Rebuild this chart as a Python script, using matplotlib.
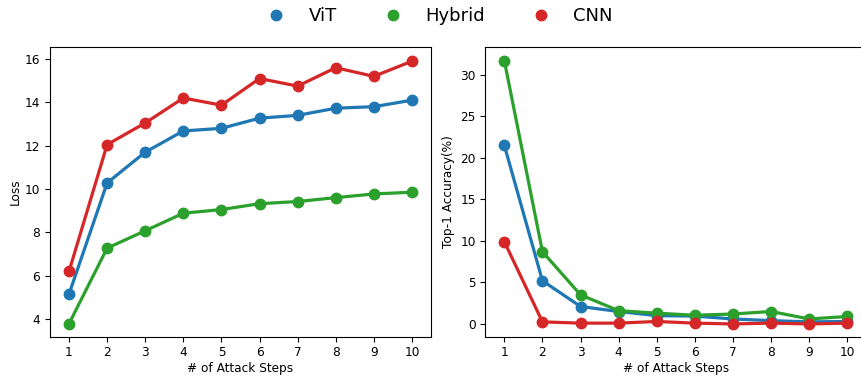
import matplotlib.pyplot as plt
from matplotlib.lines import Line2D

steps = ['1', '2', '3', '4', '5', '6', '7', '8', '9', '10']
models = ['ViT', 'Hybrid', 'CNN']
colors = ['#1f77b4', '#2ca02c', '#d62728']

loss_vit = [5.15, 10.28, 11.7, 12.68, 12.8, 13.27, 13.4, 13.73, 13.8, 14.1]
loss_hybrid = [3.78, 7.27, 8.07, 8.88, 9.05, 9.32, 9.42, 9.6, 9.77, 9.85]
loss_cnn = [6.2, 12.05, 13.05, 14.2, 13.87, 15.1, 14.75, 15.6, 15.2, 15.9]

acc_vit = [21.5, 5.2, 2.1, 1.5, 1.0, 0.95, 0.6, 0.4, 0.25, 0.3]
acc_hybrid = [31.7, 8.7, 3.5, 1.6, 1.3, 1.05, 1.2, 1.5, 0.6, 0.9]
acc_cnn = [9.9, 0.25, 0.1, 0.1, 0.3, 0.1, 0.0, 0.1, 0.0, 0.1]

plt.rcParams['font.size'] = 8.7

fig = plt.figure(figsize=(8.62, 3.77), dpi=100)
ax1 = fig.add_axes([0.058, 0.107, 0.442, 0.768])
ax2 = fig.add_axes([0.563, 0.107, 0.442, 0.768])

x = list(range(len(steps)))

# left: loss
for ys, c in zip([loss_vit, loss_hybrid, loss_cnn], colors):
    ax1.plot(x, ys, color=c, lw=2.3, marker='o', markersize=7.5)
ax1.set_ylim(3.18, 16.55)
ax1.set_ylabel('Loss', labelpad=2)

# right: accuracy
for ys, c in zip([acc_vit, acc_hybrid, acc_cnn], colors):
    ax2.plot(x, ys, color=c, lw=2.3, marker='o', markersize=7.5)
ax2.set_ylim(-1.53, 33.34)
ax2.set_ylabel('Top-1 Accuracy(%)')

for ax in (ax1, ax2):
    ax.set_xlim(-0.5, 9.5)
    ax.set_xticks(x)
    ax.set_xticklabels(steps)
    ax.set_xlabel('# of Attack Steps', labelpad=2)

handles = [Line2D([], [], color=c, marker='o', linestyle='', markersize=7.5) for c in colors]
fig.legend(handles, models, loc='upper center', bbox_to_anchor=(0.505, 1.025), ncol=3,
           frameon=False, fontsize=13, handletextpad=0.8, columnspacing=2.1)

plt.savefig('out.png', dpi=100)
